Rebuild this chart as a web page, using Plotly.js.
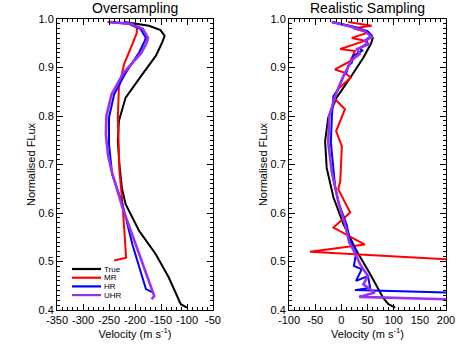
<!DOCTYPE html>
<html>
<head>
<meta charset="utf-8">
<script src="https://cdn.plot.ly/plotly-3.0.1.min.js"></script>
<style>
  html, body { margin: 0; padding: 0; background: #fff; }
  #chart { width: 463px; height: 348px; }
</style>
</head>
<body>
<div id="chart"></div>
<script>
// series names + colours
const names = ['True', 'MR', 'HR', 'UHR'];
const colors = ['#000000', '#ff0000', '#0000ff', '#9a30f0'];

// tick labels (plain hyphen like the original, not the unicode minus)
const overTicks = [-350, -300, -250, -200, -150, -100, -50];
const realTicks = [-100, -50, 0, 50, 100, 150, 200];

// Oversampling panel (velocity in m/s, normalised flux)
const overTrueV = [-221, -186, -173, -151, -143, -148, -160, -186, -218, -231, -233, -230, -225, -218, -192, -160, -135, -112, -100];
const overTrueF = [0.994, 0.989, 0.986, 0.977, 0.965, 0.951, 0.924, 0.886, 0.838, 0.790, 0.748, 0.700, 0.650, 0.618, 0.563, 0.515, 0.467, 0.412, 0.405];

const overMrV = [-253, -210, -196, -197, -205, -221, -231, -233, -231, -230, -224, -219, -217, -240];
const overMrF = [0.994, 0.990, 0.982, 0.970, 0.948, 0.907, 0.858, 0.797, 0.728, 0.687, 0.618, 0.549, 0.508, 0.502];

const overHrV = [-250, -211, -189, -179, -183, -192, -218, -240, -250, -250, -244, -224, -205, -179, -165];
const overHrF = [0.994, 0.990, 0.979, 0.961, 0.951, 0.931, 0.889, 0.845, 0.797, 0.742, 0.680, 0.618, 0.535, 0.443, 0.436];

const overUhrV = [-250, -208, -185, -175, -178, -188, -222, -245, -255, -256, -252, -245, -224, -199, -170, -163, -168];
const overUhrF = [0.994, 0.990, 0.980, 0.961, 0.950, 0.930, 0.889, 0.845, 0.800, 0.762, 0.720, 0.687, 0.611, 0.535, 0.450, 0.429, 0.422];

// Realistic sampling panel
const realTrueV = [-18, 29, 51, 60, 57, 42, 17, -9, -25, -31, -28, -15, 4, 29, 55, 80, 90, 103];
const realTrueF = [0.994, 0.982, 0.972, 0.961, 0.950, 0.920, 0.879, 0.838, 0.797, 0.748, 0.693, 0.632, 0.577, 0.522, 0.474, 0.425, 0.412, 0.405];

const realMrV = [13, 58, 23, 51, 20, 45, -2, 26, 17, -12, 7, 18, -6, -15, 7, -10, 1, -2, -6, 17, -15, 45, -60, 300];
const realMrF = [0.994, 0.986, 0.981, 0.972, 0.961, 0.955, 0.938, 0.934, 0.913, 0.896, 0.889, 0.879, 0.856, 0.838, 0.814, 0.769, 0.738, 0.666, 0.649, 0.601, 0.570, 0.535, 0.520, 0.499];

const realHrV = [-18, 20, 50, 58, 48, 50, 35, 40, 23, 20, 13, 10, 4, -6, -15, -18, -20, -15, -12, -5, 10, 17, 29, 24, 39, 28, 51, 55, 26, 300];
const realHrF = [0.994, 0.985, 0.975, 0.966, 0.958, 0.950, 0.940, 0.935, 0.924, 0.910, 0.903, 0.890, 0.882, 0.855, 0.841, 0.800, 0.745, 0.690, 0.656, 0.620, 0.577, 0.542, 0.522, 0.491, 0.484, 0.460, 0.470, 0.446, 0.441, 0.433];

const realUhrV = [-18, 15, 45, 58, 45, 52, 30, 35, 20, 12, 5, -5, -12, -23, -25, -18, -5, 7, 15, 25, 36, 51, 42, 64, 34, 300];
const realUhrF = [0.994, 0.985, 0.975, 0.963, 0.955, 0.948, 0.938, 0.928, 0.915, 0.900, 0.885, 0.860, 0.840, 0.800, 0.745, 0.683, 0.620, 0.577, 0.540, 0.520, 0.494, 0.470, 0.453, 0.436, 0.427, 0.419];

const overV = [overTrueV, overMrV, overHrV, overUhrV];
const overF = [overTrueF, overMrF, overHrF, overUhrF];
const realV = [realTrueV, realMrV, realHrV, realUhrV];
const realF = [realTrueF, realMrF, realHrF, realUhrF];
const widths = [2, 2, 2, 2.6];

const font = 'Liberation Sans, Arial, sans-serif';

let data = [];
for (let i = 0; i < names.length; i++) {
    data.push({
        x: overV[i], y: overF[i], xaxis: 'x', yaxis: 'y',
        mode: 'lines', name: names[i], showlegend: false,
        line: {color: colors[i], width: widths[i]}
    });
}
for (let i = 0; i < names.length; i++) {
    data.push({
        x: realV[i], y: realF[i], xaxis: 'x2', yaxis: 'y2',
        mode: 'lines', name: names[i], showlegend: false,
        line: {color: colors[i], width: widths[i]}
    });
}

function xAx(range, dom, anchor, ticks) {
    return {
        domain: dom, range: range, anchor: anchor,
        tickmode: 'array', tickvals: ticks, ticktext: ticks.map(String), tickangle: 0,
        ticks: 'inside', ticklen: 6, tickwidth: 1, tickcolor: '#000',
        minor: {ticks: 'inside', tick0: range[0], dtick: 10, ticklen: 3, tickcolor: '#000', showgrid: false},
        showline: true, linecolor: '#000', linewidth: 1, mirror: 'allticks',
        showgrid: false, zeroline: false,
        tickfont: {family: font, size: 11, color: '#000'},
        title: {text: 'Velocity (m s<sup>-1</sup>)', font: {family: font, size: 11, color: '#000'}, standoff: 4}
    };
}
function yAx(dom, anchor) {
    return {
        domain: dom, range: [0.4, 1.0], anchor: anchor,
        tick0: 0.4, dtick: 0.1, tickformat: '.1f',
        ticks: 'inside', ticklen: 6, tickwidth: 1, tickcolor: '#000',
        minor: {ticks: 'inside', dtick: 0.01, ticklen: 3, tickcolor: '#000', showgrid: false},
        showline: true, linecolor: '#000', linewidth: 1, mirror: 'allticks',
        showgrid: false, zeroline: false,
        tickfont: {family: font, size: 11, color: '#000'},
        title: {text: 'Normalised FLux', font: {family: font, size: 11, color: '#000'}, standoff: 0}
    };
}

const yDom = [1 - 310 / 348, 1 - 19 / 348];
const leftDom = [57 / 463, 213 / 463];
const rightDom = [289 / 463, 446 / 463];

let annotations = [
    {text: 'Oversampling', xref: 'paper', yref: 'paper', x: (leftDom[0] + leftDom[1]) / 2, y: yDom[1] + 0.004,
     xanchor: 'center', yanchor: 'bottom', showarrow: false, font: {family: font, size: 14, color: '#000'}},
    {text: 'Realistic Sampling', xref: 'paper', yref: 'paper', x: (rightDom[0] + rightDom[1]) / 2, y: yDom[1] + 0.004,
     xanchor: 'center', yanchor: 'bottom', showarrow: false, font: {family: font, size: 14, color: '#000'}}
];
let shapes = [];
// hand-built legend in lower left of the first panel
for (let i = 0; i < names.length; i++) {
    const yy = 1 - (269 + i * 8.7) / 348;
    shapes.push({type: 'line', xref: 'paper', yref: 'paper', x0: 72 / 463, x1: 101 / 463, y0: yy, y1: yy,
                 line: {color: colors[i], width: 2.2}});
    annotations.push({text: names[i], xref: 'paper', yref: 'paper', x: 103 / 463, y: yy,
                      xanchor: 'left', yanchor: 'middle', showarrow: false, borderpad: 0,
                      font: {family: font, size: 8, color: '#000'}});
}

const layout = {
    width: 463, height: 348,
    margin: {l: 0, r: 0, t: 0, b: 0},
    paper_bgcolor: '#fff', plot_bgcolor: '#fff',
    showlegend: false,
    xaxis: xAx([-350, -50], leftDom, 'y', overTicks),
    yaxis: yAx(yDom, 'x'),
    xaxis2: xAx([-100, 200], rightDom, 'y2', realTicks),
    yaxis2: yAx(yDom, 'x2'),
    annotations: annotations,
    shapes: shapes
};

Plotly.newPlot('chart', data, layout, {displayModeBar: false, staticPlot: true});
</script>
</body>
</html>
